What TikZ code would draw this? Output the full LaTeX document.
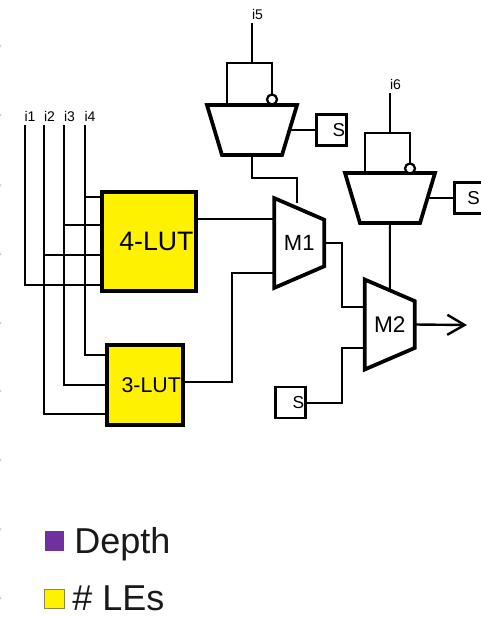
\documentclass[tikz,border=0pt]{standalone}
\usepackage{fontspec}
\setmainfont{Liberation Sans}
\usetikzlibrary{shapes.geometric,calc,arrows.meta}
\definecolor{keyviolet}{HTML}{7030A0}

\begin{document}
\begin{tikzpicture}[x=0.75pt,y=-0.75pt,node distance=59.6pt,
  wire/.style={line width=1.5pt},
  lut/.style={draw,fill=yellow,line width=3pt,inner sep=0pt,outer sep=0pt,align=right},
  mux/.style={trapezium,draw,line width=2.8pt,trapezium stretches=true,trapezium left angle=76,trapezium right angle=76,minimum width=67.5pt,minimum height=37.5pt,inner sep=1pt,outer sep=0pt},
  sel/.style={draw,line width=1.8pt,minimum height=23pt,text width=20.5pt,inner xsep=1pt,inner ysep=0pt,outer sep=0pt,align=right,font=\fontsize{14}{14}\selectfont},
  inv/.style={circle,draw,fill=white,line width=1.7pt,minimum size=7.5pt,inner sep=0pt,outer sep=0pt},
  inp/.style={anchor=south west,inner xsep=0pt,inner ysep=2.6pt,outer sep=0pt,font=\fontsize{10.5}{11}\selectfont},
  key/.style={minimum size=14.5pt,inner sep=0pt,outer sep=0pt},
  keytext/.style={anchor=base west,inner sep=0pt,font=\fontsize{27}{28}\selectfont,text=black!90}]
\useasboundingbox (0,0) rectangle (481,617);

\foreach \y in {46,115,185,254,323,391,460,529,598}
  \fill[black!20] (0,\y) circle (1.5);

\node[inp] (i1) at (24.5,125) {i1};
\node[inp] (i2) at (44,125) {i2};
\node[inp] (i3) at (64,125) {i3};
\node[inp] (i4) at (84.5,125) {i4};
\node[inp] (i5) at (252,23.5) {i5};
\node[inp] (i6) at (390,93) {i6};

\node[lut,minimum width=70.5pt,minimum height=74.25pt,text width=67.5pt,font=\fontsize{20}{20}\selectfont] (lut4) at (148.5,241.5) {4-LUT};
\node[lut,minimum width=57pt,minimum height=60pt,text width=54.5pt,font=\fontsize{16}{16}\selectfont] (lut3) at (144.5,385) {3-LUT};

\node[mux,shape border rotate=180] (mx1) at (252,130) {};
\node[mux,shape border rotate=180] (mx2) at (390,198) {};
\node[mux,shape border rotate=270,font=\fontsize{16.5}{17}\selectfont] (m1) at (299.25,243) {M1};
\node[mux,shape border rotate=270,font=\fontsize{17}{17}\selectfont] (m2) at (389.75,324.5) {M2};

\node[sel] (s1) [right of=mx1] {S};
\node[sel] (s2) [right of=mx2] {S\hspace*{2.5pt}\mbox{}};
\node[sel,font=\fontsize{13}{14}\selectfont] (s3) at (290.5,402.5) {S};

\node[inv] (c1) at (272,99.5) {};
\node[inv] (c2) at (410,168.5) {};

\coordinate (j5) at (252,63);
\coordinate (j6) at (390,133);
\coordinate (t1) at (227,105);
\coordinate (t2) at (365,173.5);
\coordinate (m1a) at (273.5,219);
\coordinate (m1b) at (273.5,273);
\coordinate (m1t) at (297.3,203);
\coordinate (m2a) at (365,307);
\coordinate (m2b) at (365,348);
\coordinate (out) at (467,325);

% inputs to the LUTs
\draw[wire] (i1.south west) |- (lut4.west |- 0,285);
\foreach \n/\y in {i2/414,i3/385,i4/355}
  \draw[wire] (\n.south west) |- (lut3.west |- 0,\y);
\foreach \n/\y in {i2/255,i3/225,i4/197}
  \draw[wire] (\n.south west |- 0,\y) -- (lut4.west |- 0,\y);

% inputs to the upper muxes
\draw[wire] (i5.south west) -- (j5);
\draw[wire] (t1) |- (j5) -| (c1.north);
\draw[wire] (i6.south west) -- (j6);
\draw[wire] (t2) |- (j6) -| (c2.north);
\draw[wire] (mx1.east) -- (s1.west);
\draw[wire] (mx2.east) -- (s2.west);

% to M1
\draw[wire] (lut4.east |- m1a) -- (m1a);
\draw[wire] ([yshift=2.25pt]lut3.east) -| ($(m1b)+(-42,0)$) -- (m1b);
\draw[wire] (mx1.south) -- ++(0,23) -| (m1t);

% to M2
\draw[wire] (m1.east) -| ($(m2a)+(-23.5,0)$) -- (m2a);
\draw[wire] (s3.east) -| ($(m2b)+(-23.5,0)$) -- (m2b);
\draw[wire] (mx2.south) -- (m2.north);
\draw[line width=1.8pt,-{Straight Barb[length=13pt,width=15pt,line width=1.8pt]}] (m2.east) -- (out);

% legend
\node[key,fill=keyviolet] (k1) at (54.5,541) {};
\node[key,draw=black!50!yellow,fill=yellow,line width=0.8pt] (k2) at (54.5,599) {};
\node[keytext] (t3) at (74,553) {Depth};
\node[keytext] (t4) at (72,610) {\# LEs};
\end{tikzpicture}
\end{document}
